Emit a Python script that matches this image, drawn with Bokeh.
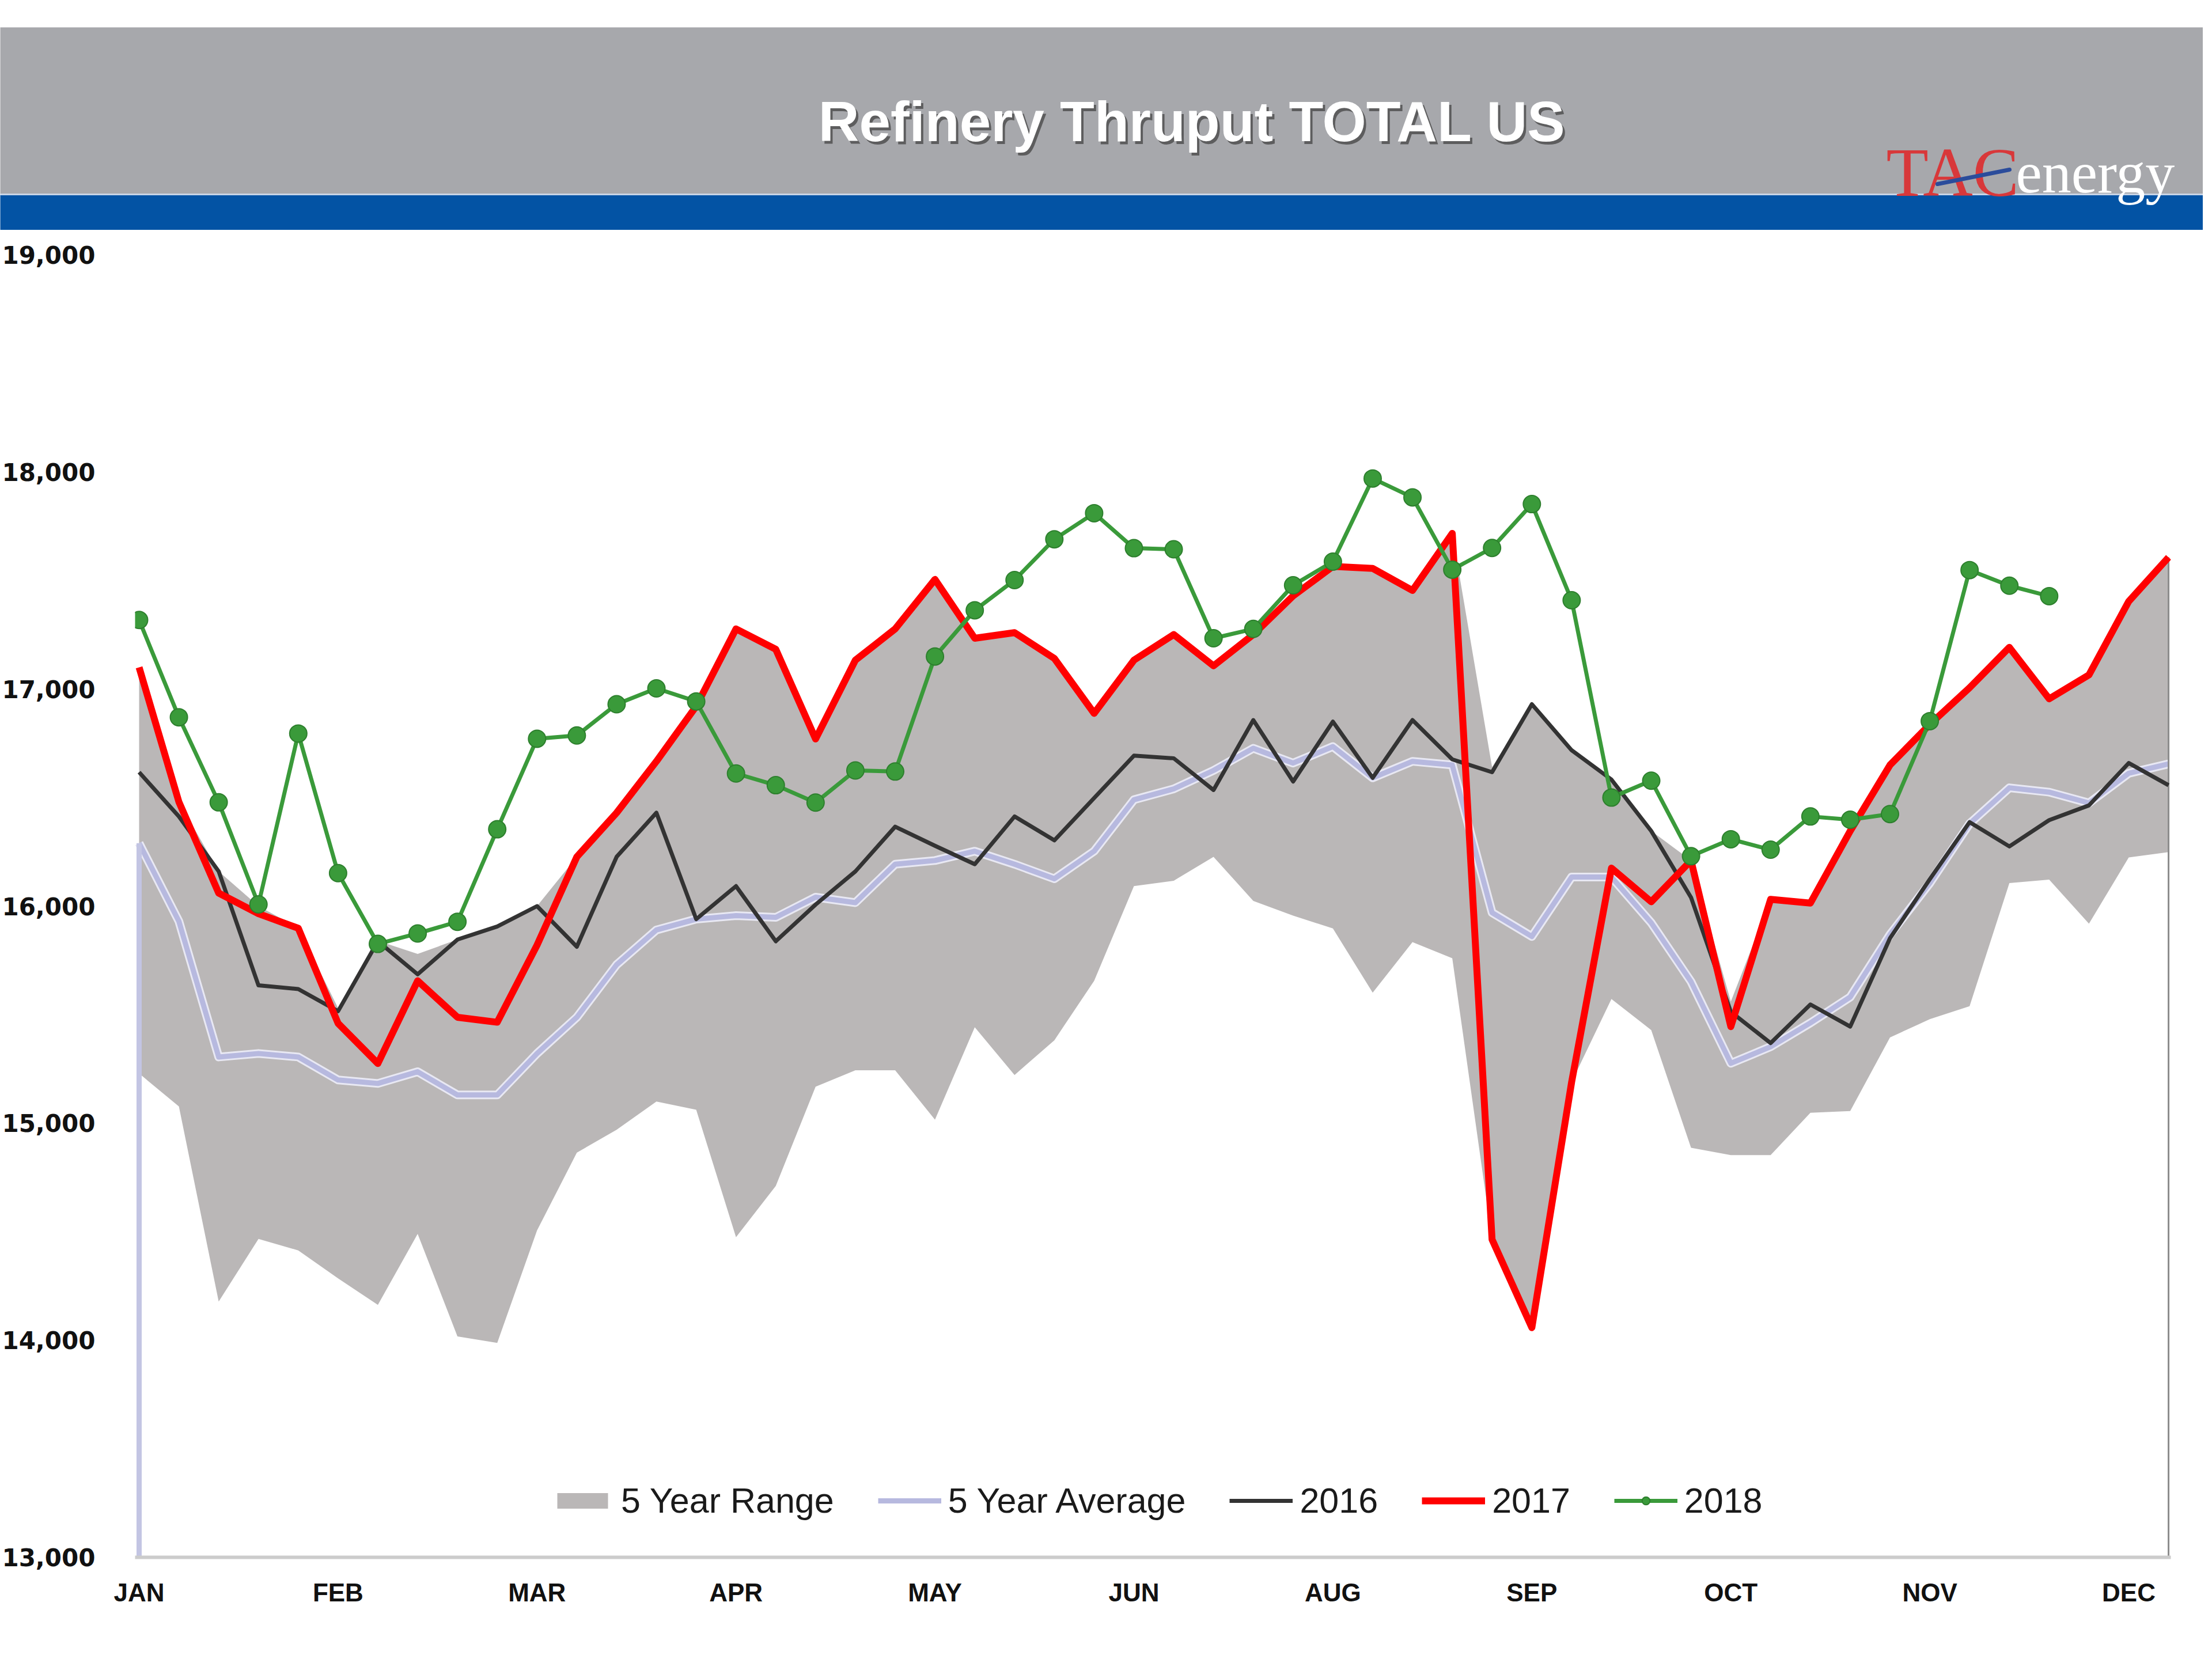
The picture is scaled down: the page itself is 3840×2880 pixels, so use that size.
import numpy as np
from bokeh.plotting import figure
from bokeh.layouts import column
from bokeh.models import (Range1d, FixedTicker, NumeralTickFormatter, Legend, LegendItem)
from bokeh.core.properties import value
from bokeh.embed import file_html
from bokeh.resources import INLINE

# ---------------- data (kb/d, weekly) ----------------
month_labels = ["JAN", "FEB", "MAR", "APR", "MAY", "JUN", "AUG", "SEP", "OCT", "NOV", "DEC"]

range_low = [15229, 15077, 14178, 14467, 14414, 14285, 14163, 14490, 14018, 13988,
             14506, 14864, 14970, 15100, 15062, 14475, 14711, 15168, 15244, 15244,
             15016, 15442, 15222, 15382, 15656, 16092, 16117, 16227, 16024, 15956,
             15897, 15601, 15834, 15760, 14464, 14058, 15190, 15572, 15429, 14887,
             14853, 14853, 15048, 15056, 15395, 15479, 15539, 16106, 16122, 15919,
             16224, 16249]
range_high = [17100, 16481, 16160, 16000, 15900, 15530, 15840, 15780, 15846, 15906,
              16000, 16227, 16430, 16667, 16921, 17277, 17183, 16770, 17133, 17277,
              17505, 17234, 17260, 17141, 16888, 17133, 17251, 17107, 17251, 17429,
              17565, 17556, 17454, 17717, 16640, 16930, 16718, 16583, 16346, 16210,
              15560, 16031, 16014, 16346, 16650, 16837, 17006, 17192, 16955, 17065,
              17404, 17607]
avg_5yr = [16290, 15930, 15305, 15321, 15305, 15199, 15183, 15237, 15130, 15130,
           15321, 15488, 15730, 15890, 15940, 15956, 15948, 16041, 16016, 16193,
           16210, 16253, 16193, 16126, 16253, 16490, 16540, 16625, 16727, 16659,
           16735, 16591, 16667, 16650, 15970, 15860, 16134, 16134, 15923, 15652,
           15276, 15352, 15462, 15581, 15869, 16106, 16380, 16545, 16525, 16475,
           16612, 16655]
y2016 = [16617, 16413, 16160, 15635, 15618, 15516, 15838, 15686, 15846, 15906,
         16000, 15813, 16227, 16430, 15940, 16092, 15838, 16007, 16160, 16366,
         16278, 16193, 16413, 16303, 16498, 16693, 16681, 16535, 16857, 16574,
         16850, 16591, 16857, 16676, 16617, 16930, 16718, 16583, 16346, 16040,
         15513, 15369, 15547, 15445, 15852, 16124, 16387, 16275, 16396, 16464,
         16659, 16557]
y2017 = [17100, 16480, 16060, 15965, 15898, 15460, 15275, 15656, 15488, 15465,
         15820, 16227, 16430, 16667, 16921, 17277, 17183, 16770, 17133, 17277,
         17505, 17234, 17260, 17141, 16888, 17133, 17251, 17107, 17251, 17429,
         17565, 17556, 17454, 17717, 14464, 14058, 15190, 16175, 16020, 16210,
         15445, 16031, 16014, 16346, 16650, 16837, 17006, 17192, 16955, 17065,
         17404, 17607]
y2018 = [17318, 16870, 16478, 16008, 16795, 16152, 15826, 15874, 15928, 16354,
         16771, 16786, 16930, 17003, 16943, 16611, 16557, 16477, 16625, 16620,
         17150, 17363, 17502, 17690, 17810, 17649, 17644, 17234, 17277, 17478,
         17587, 17970, 17883, 17550, 17650, 17852, 17409, 16500, 16578, 16230,
         16308, 16260, 16413, 16398, 16424, 16852, 17548, 17476, 17428]

title_text = "Refinery Thruput TOTAL US"

weeks = list(range(len(y2017)))
weeks18 = weeks[:len(y2018)]

# ---------------- header ----------------
W = 3824
head = figure(width=W, height=399, x_range=Range1d(8, 3832), y_range=Range1d(400, 1),
              output_backend="svg", toolbar_location=None, min_border=0,
              x_axis_type=None, y_axis_type=None)
head.frame_align = False
head.outline_line_color = None
head.grid.visible = False
head.quad(left=[0], right=[3840], top=[48], bottom=[337], fill_color="#A7A8AC", line_color=None)
head.quad(left=[0], right=[3840], top=[339], bottom=[400], fill_color="#0353A4", line_color=None)
head.segment(x0=[0], y0=[338], x1=[3840], y1=[338], line_color="#C8D4E6", line_width=3)

head.text(x=[2081], y=[216], text=[title_text], text_align="center", text_baseline="alphabetic",
          text_font=value("Liberation Sans"), text_font_style="bold", text_font_size="98px",
          text_color="#505050", text_alpha=0.85)
head.text(x=[2077], y=[211], text=[title_text], text_align="center", text_baseline="alphabetic",
          text_font=value("Liberation Sans"), text_font_style="bold", text_font_size="98px",
          text_color="white")
# logo
head.text(x=[3282], y=[300], text=["TAC"], text_align="left", text_baseline="alphabetic",
          text_font=value("Liberation Serif"), text_font_size="120px", text_color="#D8383A")
head.text(x=[3507], y=[300], text=["energy"], text_align="left", text_baseline="alphabetic",
          text_font=value("Liberation Serif"), text_font_size="102px", text_color="white")
head.line(x=[3371, 3496], y=[320, 295], line_width=7, line_color="#2B4C9B", line_cap="round")

# ---------------- main chart ----------------
p = figure(width=W, height=2465, x_range=Range1d(-0.1012, 51.057), y_range=Range1d(13000, 19000),
           output_backend="svg", toolbar_location=None,
           min_border_left=217, min_border_right=56, min_border_top=43, min_border_bottom=161)
p.frame_align = False
p.outline_line_color = None
p.xgrid.visible = False
p.ygrid.visible = False

band = p.varea(x=weeks, y1=range_low, y2=range_high, fill_color="#BAB7B7")
p.line(weeks, avg_5yr, line_width=15, line_color="#E8E8F3", line_join="round")
avg = p.line(weeks, avg_5yr, line_width=9, line_color="#B7B9DF", line_join="round")
p.segment(x0=[weeks[0]], y0=[avg_5yr[0]], x1=[weeks[0]], y1=[13000], line_width=9, line_color="#C3C5E3")
p.segment(x0=[weeks[-1]], y0=[range_high[-1]], x1=[weeks[-1]], y1=[13000], line_width=3, line_color="#8C8C8C")
l16 = p.line(weeks, y2016, line_width=7, line_color="#333333", line_join="round")
l17 = p.line(weeks, y2017, line_width=12, line_color="#FF0000", line_join="round")
l18 = p.line(weeks18, y2018, line_width=7, line_color="#3A9A3A", line_join="round")
s18 = p.scatter(weeks18, y2018, size=30, fill_color="#3A9A3A", line_color="#2D7F2D", line_width=2)

p.xaxis.ticker = FixedTicker(ticks=[5 * k for k in range(len(month_labels))])
p.xaxis.major_label_overrides = {5 * k: m for k, m in enumerate(month_labels)}
p.xaxis.axis_line_color = "#CCCCCC"
p.xaxis.axis_line_width = 6
p.xaxis.major_tick_line_color = None
p.xaxis.minor_tick_line_color = None
p.xaxis.major_label_standoff = 30
p.xaxis.major_label_text_font = "Liberation Sans"
p.xaxis.major_label_text_font_style = "bold"
p.xaxis.major_label_text_font_size = "44px"
p.xaxis.major_label_text_color = "#111111"

p.yaxis.ticker = FixedTicker(ticks=list(range(13000, 19001, 1000)))
p.yaxis.formatter = NumeralTickFormatter(format="0,0")
p.yaxis.axis_line_color = None
p.yaxis.major_tick_line_color = None
p.yaxis.minor_tick_line_color = None
p.yaxis.major_label_standoff = 63
p.yaxis.major_label_text_font = "DejaVu Sans"
p.yaxis.major_label_text_font_style = "bold"
p.yaxis.major_label_text_font_size = "42px"
p.yaxis.major_label_text_color = "#111111"

legend = Legend(items=[
    LegendItem(label="5 Year Range", renderers=[band]),
    LegendItem(label="5 Year Average", renderers=[avg]),
    LegendItem(label="2016", renderers=[l16]),
    LegendItem(label="2017", renderers=[l17]),
    LegendItem(label="2018", renderers=[l18, s18]),
], orientation="horizontal", location=(722, 63), glyph_width=110, glyph_height=34,
   label_standoff=12, spacing=76, padding=0, margin=0, border_line_color=None,
   background_fill_alpha=0, label_text_font="Liberation Sans", label_text_font_size="61px",
   label_text_color="#1A1A1A", label_height=60)
p.add_layout(legend)

layout = column(head, p, spacing=0)
open("out.html", "w").write(file_html(layout, INLINE))
